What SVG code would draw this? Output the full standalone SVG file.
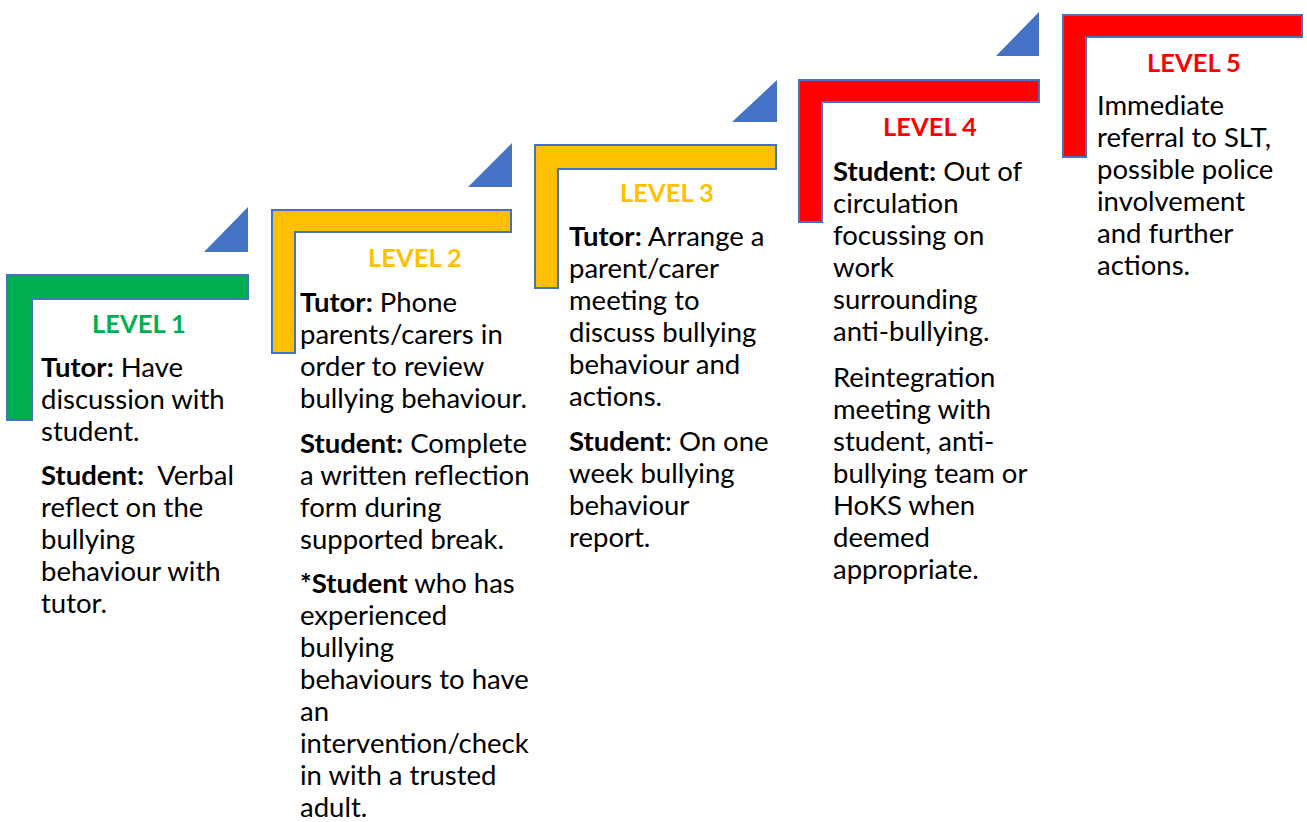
<svg xmlns="http://www.w3.org/2000/svg" width="1307" height="822" viewBox="0 0 1307 822">
<style>
.bg{fill:#ffffff}
.step{stroke:#4472C4;stroke-width:2;stroke-linejoin:miter}
.g{fill:#00B050}
.y{fill:#FFC000}
.r{fill:#FF0000}
.tri{fill:#4472C4}
.h{font-family:Lato,"Open Sans",sans-serif;font-weight:bold;font-size:25.5px;text-anchor:middle}
.t{font-family:Lato,"Open Sans",sans-serif;font-size:27.5px;fill:#000000}
.b{font-weight:bold}
</style>
<rect class="bg" x="0" y="0" width="1307" height="822"/>
<g id="connectors">
<polygon id="tri1" class="tri" points="248,207 248,252 204,252"/>
<polygon id="tri2" class="tri" points="512,143 512,187 468,187"/>
<polygon id="tri3" class="tri" points="777,80 777,122 732,122"/>
<polygon id="tri4" class="tri" points="1039,12 1039,56 996,56"/>
</g>
<g id="level1">
<path class="step g" d="M7,275 H248 V299 H32 V420 H7 Z"/>
<text class="h" x="139" y="333" fill="#00B050">LEVEL 1</text>
<text class="t" xml:space="preserve"><tspan x="41" y="377"><tspan class="b">Tutor:</tspan> Have</tspan><tspan x="41" y="409">discussion with</tspan><tspan x="41" y="441">student.</tspan><tspan x="41" y="485"><tspan class="b">Student:</tspan>  Verbal</tspan><tspan x="41" y="517">reflect on the</tspan><tspan x="41" y="549">bullying</tspan><tspan x="41" y="581">behaviour with</tspan><tspan x="41" y="613">tutor.</tspan></text>
</g>
<g id="level2">
<path class="step y" d="M272,210 H511 V232 H295 V353 H272 Z"/>
<text class="h" x="415" y="267" fill="#FFC000">LEVEL 2</text>
<text class="t"><tspan x="300" y="312"><tspan class="b">Tutor:</tspan> Phone</tspan><tspan x="300" y="344">parents/carers in</tspan><tspan x="300" y="376">order to review</tspan><tspan x="300" y="408">bullying behaviour.</tspan><tspan x="300" y="453"><tspan class="b">Student:</tspan> Complete</tspan><tspan x="300" y="485">a written reflection</tspan><tspan x="300" y="517">form during</tspan><tspan x="300" y="549">supported break.</tspan><tspan x="300" y="593"><tspan class="b">*Student</tspan> who has</tspan><tspan x="300" y="625">experienced</tspan><tspan x="300" y="657">bullying</tspan><tspan x="300" y="689">behaviours to have</tspan><tspan x="300" y="721">an</tspan><tspan x="300" y="753">intervention/check</tspan><tspan x="300" y="785">in with a trusted</tspan><tspan x="300" y="817">adult.</tspan></text>
</g>
<g id="level3">
<path class="step y" d="M535,145 H776 V169 H558 V288 H535 Z"/>
<text class="h" x="667" y="202" fill="#FFC000">LEVEL 3</text>
<text class="t"><tspan x="569" y="246"><tspan class="b">Tutor:</tspan> Arrange a</tspan><tspan x="569" y="278">parent/carer</tspan><tspan x="569" y="310">meeting to</tspan><tspan x="569" y="342">discuss bullying</tspan><tspan x="569" y="374">behaviour and</tspan><tspan x="569" y="406">actions.</tspan><tspan x="569" y="451"><tspan class="b">Student</tspan>: On one</tspan><tspan x="569" y="483">week bullying</tspan><tspan x="569" y="515">behaviour</tspan><tspan x="569" y="547">report.</tspan></text>
</g>
<g id="level4">
<path class="step r" d="M799,80 H1039 V102 H822 V222 H799 Z"/>
<text class="h" x="930" y="136" fill="#FF0000">LEVEL 4</text>
<text class="t"><tspan x="833" y="181"><tspan class="b">Student:</tspan> Out of</tspan><tspan x="833" y="213">circulation</tspan><tspan x="833" y="245">focussing on</tspan><tspan x="833" y="277">work</tspan><tspan x="833" y="309">surrounding</tspan><tspan x="833" y="341">anti-bullying.</tspan><tspan x="833" y="387">Reintegration</tspan><tspan x="833" y="419">meeting with</tspan><tspan x="833" y="451">student, anti-</tspan><tspan x="833" y="483">bullying team or</tspan><tspan x="833" y="515">HoKS when</tspan><tspan x="833" y="547">deemed</tspan><tspan x="833" y="579">appropriate.</tspan></text>
</g>
<g id="level5">
<path class="step r" d="M1063,15 H1302 V37 H1086 V157 H1063 Z"/>
<text class="h" x="1194" y="72" fill="#FF0000">LEVEL 5</text>
<text class="t"><tspan x="1097" y="115">Immediate</tspan><tspan x="1097" y="147">referral to SLT,</tspan><tspan x="1097" y="179">possible police</tspan><tspan x="1097" y="211">involvement</tspan><tspan x="1097" y="243">and further</tspan><tspan x="1097" y="275">actions.</tspan></text>
</g>
</svg>
